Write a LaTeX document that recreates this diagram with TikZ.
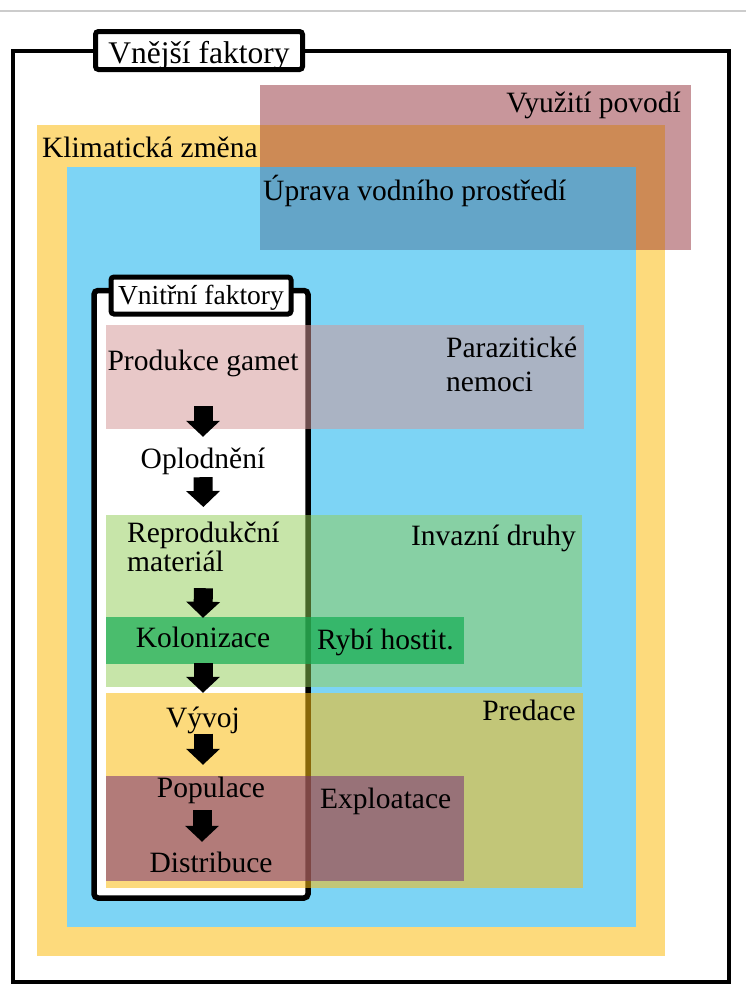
\documentclass[tikz,border=0pt]{standalone}
\usepackage{fontspec}
\setmainfont{Liberation Serif}
\usetikzlibrary{arrows.meta}

\definecolor{klima}{RGB}{253,218,124}
\definecolor{voda}{RGB}{125,212,245}
\definecolor{povodi}{RGB}{200,150,155}
\definecolor{povodiK}{RGB}{205,138,85}
\definecolor{povodiV}{RGB}{100,165,200}
\definecolor{paraz}{RGB}{212,150,150}
\definecolor{invaz}{RGB}{145,205,85}
\definecolor{rybi}{RGB}{21,173,84}
\definecolor{pred}{RGB}{251,188,18}
\definecolor{explo}{RGB}{118,45,120}

\tikzset{txt/.style={inner sep=0pt,font=\fontsize{29.5}{34}\selectfont,text height=20.6pt,text depth=6.5pt}}
\tikzset{txtm/.style={inner sep=0pt,align=left}}
\tikzset{lbl/.style={draw,line width=5pt,fill=white,rounded corners=3pt,inner sep=0pt}}
\tikzset{flow/.style={line width=19pt,-{Triangle[length=16pt,width=33pt]}}}

\begin{document}
\begin{tikzpicture}[x=1pt,y=-1pt]
\useasboundingbox (0,0) rectangle (746,985);
% frame
\draw[black!20,line width=1.5pt] (0,11) -- (746,11);
\draw[line width=4pt] (13,50.5) rectangle (729,982);
% outer areas
\fill[klima] (37,125) rectangle (665,956);
\fill[povodi] (260,85) rectangle (691,250);
\fill[povodiK] (260,125) rectangle (665,250);
\fill[voda] (67,167) rectangle (636,927);
\fill[povodiV] (260,167) rectangle (636,250);
% inner frame
\draw[line width=5.5pt,rounded corners=4pt,fill=white] (94,290.5) rectangle (308,898);
% inner areas
\fill[paraz,fill opacity=0.52] (106,325) rectangle (584,429);
\fill[invaz,fill opacity=0.5] (106,515) rectangle (582,687);
\fill[rybi,fill opacity=0.7] (106,617) rectangle (464,664);
\fill[pred,fill opacity=0.55] (106,693) rectangle (583,888);
\fill[explo,fill opacity=0.55] (106,776) rectangle (464,881);
% titles
\node[lbl,minimum width=207pt,minimum height=38pt,font=\fontsize{31.5}{36}\selectfont,text height=25pt,text depth=0pt] (ext) at (199,50.5) {Vnější faktory};
\node[lbl,minimum width=180pt,minimum height=37pt,font=\fontsize{27.5}{32}\selectfont,text height=19.3pt,text depth=2.2pt] (int) at (201,295.5) {Vnitřní faktory};
% factors
\node[txt,anchor=base west] (klim) at (42,157) {Klimatická změna};
\node[txt,anchor=base east] (vyu) at (681,112) {Využití povodí};
\node[txt,anchor=base west] (upr) at (263,200) {Úprava vodního prostředí};
\node[txtm,anchor=north west,font=\fontsize{29.5}{34}\selectfont] (par) at (446,336.5) {Parazitické\\nemoci};
\node[txt,anchor=base east] (inv) at (576,545) {Invazní druhy};
\node[txt,anchor=base west] (ryb) at (317,649) {Rybí hostit.};
\node[txt,anchor=base east] (pre) at (576,720) {Predace};
\node[txt,anchor=base west] (expl) at (320,808) {Exploatace};
% stages
\node[txt,anchor=base] (gam) at (203,370) {Produkce gamet};
\node[txt,anchor=base] (opl) at (203,468) {Oplodnění};
\node[txtm,anchor=north west,font=\fontsize{29.5}{29}\selectfont] (rep) at (127,522) {Reprodukční\\materiál};
\node[txt,anchor=base] (kol) at (203,647) {Kolonizace};
\node[txt,anchor=base] (vyv) at (203,727) {Vývoj};
\node[txt,anchor=base] (pop) at (211,797) {Populace};
\node[txt,anchor=base] (dis) at (211,872) {Distribuce};
%arrows
\draw[flow] ([yshift=-29.5pt]gam.south) -- ([yshift=10.4pt]opl.north);
\draw[flow] ([yshift=-2.5pt]opl.south) -- ([yshift=15pt]rep.north);
\draw[flow] ([yshift=-16pt]rep.south) -- ([yshift=8.4pt]kol.north);
\draw[flow] ([yshift=-9.5pt]kol.south) -- ([yshift=13.4pt]vyv.north);
\draw[flow] (vyv.south) -- ([xshift=-8pt,yshift=11.4pt]pop.north);
\draw[flow] ([xshift=-9pt,yshift=-6.5pt]pop.south) -- ([xshift=-9pt,yshift=9.4pt]dis.north);
\end{tikzpicture}
\end{document}
